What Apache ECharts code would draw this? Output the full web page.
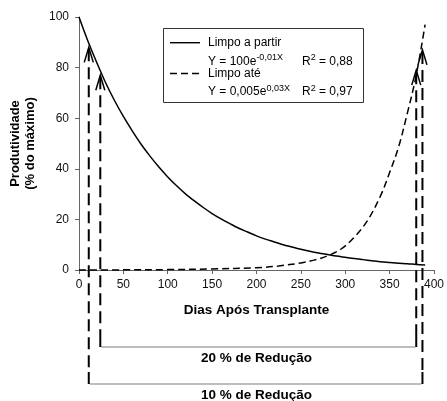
<!DOCTYPE html>
<html><head><meta charset="utf-8">
<script src="https://cdn.jsdelivr.net/npm/echarts@6/dist/echarts.min.js"></script>
<style>html,body{margin:0;padding:0;background:#fff}#c{width:447px;height:401px}</style>
</head><body><div id="c"></div>
<script>
// Solid curve: "Limpo a partir"
const solidX = [0, 10, 20, 30, 40, 50, 60, 70, 80, 90, 100, 110, 120, 130, 140, 150, 160, 170, 180, 190, 200, 210, 220, 230, 240, 250, 260, 270, 280, 290, 300, 310, 320, 330, 340, 350, 360, 370, 380, 390];
const solidY = [100, 90.5, 82, 74, 67, 60.7, 55, 49.7, 45, 40.7, 36.8, 33.3, 30.1, 27.3, 24.7, 22.3, 20.2, 18.3, 16.5, 15, 13.5, 12.2, 11.1, 10, 9.1, 8.2, 7.4, 6.7, 6.1, 5.5, 5, 4.5, 4.1, 3.7, 3.3, 3, 2.7, 2.5, 2.2, 2.0];
// Dashed curve: "Limpo até"
const dashX = [0, 50, 100, 150, 200, 225, 250, 265, 280, 295, 310, 325, 340, 350, 360, 370, 380, 390];
const dashY = [0, 0.05, 0.15, 0.4, 0.9, 1.6, 2.8, 3.9, 5.6, 8.2, 12.9, 19.5, 29.5, 38.5, 48.5, 62, 77, 97];
const seriesNames = ['Limpo a partir', 'Limpo até'];
const equations = ['Y = 100e', 'Y = 0,005e'];
const exponents = ['-0,01X', '0,03X'];
const r2 = ['0,88', '0,97'];
// Reduction markers (day, productivity at arrow tip)
const red10X = [11, 387];
const red10Y = [88, 87];
const red20X = [24, 380];
const red20Y = [77, 79];
const redLabels = ['20 % de Redução', '10 % de Redução'];
const xTitle = 'Dias Após Transplante';
const yTitle = 'Produtividade\n(% do máximo)';

const FONT = '"Liberation Sans", Arial, sans-serif';
const chart = echarts.init(document.getElementById('c'), null, {renderer: 'canvas'});
const axisCol = '#666';
const option = {
  animation: false,
  grid: {left: 79, right: 10, top: 17, bottom: 131},
  xAxis: {
    type: 'value', min: 0, max: 400, interval: 50,
    axisLine: {lineStyle: {color: axisCol, width: 1}},
    axisTick: {length: 4, lineStyle: {color: axisCol}},
    splitLine: {show: false},
    axisLabel: {color: '#111', fontSize: 12, fontFamily: FONT, margin: 9},
    name: xTitle, nameLocation: 'middle', nameGap: 33,
    nameTextStyle: {fontWeight: 'bold', fontSize: 13.5, color: '#000', fontFamily: FONT}
  },
  yAxis: {
    type: 'value', min: 0, max: 100, interval: 20,
    axisLine: {show: true, lineStyle: {color: axisCol, width: 1}},
    axisTick: {show: true, length: 4, lineStyle: {color: axisCol}},
    splitLine: {show: false},
    axisLabel: {color: '#111', fontSize: 12, fontFamily: FONT, margin: 10},
    name: yTitle, nameLocation: 'middle', nameGap: 40,
    nameTextStyle: {fontWeight: 'bold', fontSize: 13, lineHeight: 15, color: '#000', fontFamily: FONT}
  },
  series: [
    {name: seriesNames[0], type: 'line', data: solidX.map((x, i) => [x, solidY[i]]), smooth: 0.3,
     showSymbol: false, lineStyle: {color: '#000', width: 1.5}, clip: false},
    {name: seriesNames[1], type: 'line', data: dashX.map((x, i) => [x, dashY[i]]), smooth: 0.35,
     showSymbol: false, lineStyle: {color: '#000', width: 1.5, type: [7, 4]}, clip: false}
  ]
};
chart.setOption(option);

const px = (x, y) => chart.convertToPixel({gridIndex: 0}, [x, y]);
const g = [];
const bracketY = [347, 384];
function marker(x, y, bottom) {
  const t = px(x, y);
  g.push({type: 'line', shape: {x1: t[0], y1: t[1] + 2, x2: t[0], y2: bottom - 12},
          style: {stroke: '#000', lineWidth: 2, lineDash: [12, 6]}, z: 10});
  g.push({type: 'line', shape: {x1: t[0], y1: bottom - 12, x2: t[0], y2: bottom},
          style: {stroke: '#000', lineWidth: 2}, z: 10});
  g.push({type: 'polyline', shape: {points: [[t[0] - 4.5, t[1] + 15], [t[0], t[1]], [t[0] + 4.5, t[1] + 15]]},
          style: {stroke: '#000', lineWidth: 1.5, fill: null}, z: 10});
  return t[0];
}
const pairs = [[red20X, red20Y], [red10X, red10Y]];
const center = px(200, 0)[0];
pairs.forEach((pr, k) => {
  const by = bracketY[k];
  const xl = marker(pr[0][0], pr[1][0], by);
  const xr = marker(pr[0][1], pr[1][1], by);
  g.push({type: 'line', shape: {x1: xl + 1, y1: by, x2: xr - 1, y2: by},
          style: {stroke: '#a8a8a8', lineWidth: 1.5}, z: 9});
  g.push({type: 'text', x: center, y: by + 11.5, z: 10,
          style: {text: redLabels[k], fontSize: 13.5, fontWeight: 'bold', fontFamily: FONT, fill: '#000',
                  align: 'center', verticalAlign: 'middle'}});
});

// Legend box
const lx = 163.5, ly = 28.5;
g.push({type: 'rect', shape: {x: lx, y: ly, width: 200, height: 74},
        style: {fill: '#fff', stroke: '#333', lineWidth: 1}, z: 20});
const rowY = [42.7, 73.5];
const rich = {
  n: {fontSize: 12, fontFamily: FONT, fill: '#000', lineHeight: 16},
  s: {fontSize: 9, fontFamily: FONT, fill: '#000', verticalAlign: 'top'}
};
[0, 1].forEach(i => {
  g.push({type: 'line', shape: {x1: 170, y1: rowY[i], x2: 200, y2: rowY[i]},
          style: {stroke: '#000', lineWidth: 1.4, lineDash: i === 1 ? [7, 4] : null}, z: 21});
  g.push({type: 'text', x: 208, y: rowY[i], z: 21,
          style: {text: seriesNames[i], fontSize: 12, fontFamily: FONT, fill: '#000', verticalAlign: 'middle'}});
  g.push({type: 'text', x: 208, y: rowY[i] + 18.5, z: 21,
          style: {text: '{n|' + equations[i] + '}{s|' + exponents[i] + '}', rich: rich, verticalAlign: 'middle'}});
  g.push({type: 'text', x: 302, y: rowY[i] + 18.5, z: 21,
          style: {text: '{n|R}{s|2}{n| = ' + r2[i] + '}', rich: rich, verticalAlign: 'middle'}});
});
chart.setOption({graphic: g});
</script></body></html>
